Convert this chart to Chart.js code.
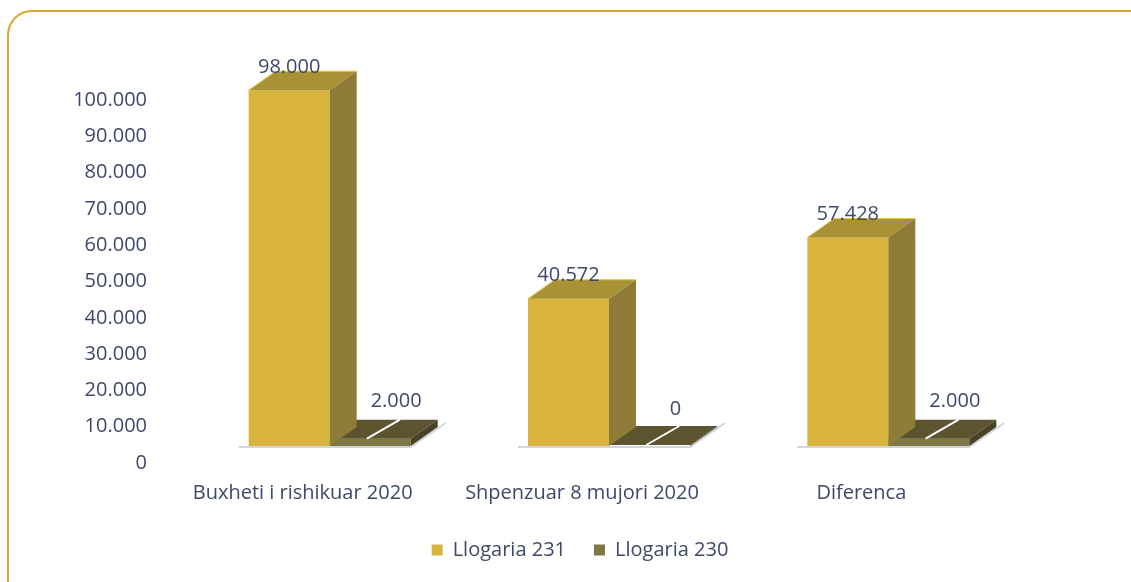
<!DOCTYPE html>
<html>
<head>
<meta charset="utf-8">
<script src="https://cdn.jsdelivr.net/npm/chart.js@4/dist/chart.umd.min.js"></script>
<style>
  html, body { margin: 0; padding: 0; background: #fff; overflow: hidden; }
  #wrap { position: relative; width: 1131px; height: 582px; }
</style>
</head>
<body>
<div id="wrap"><canvas id="graph"></canvas></div>
<script>
"use strict";

const categories = ["Buxheti i rishikuar 2020", "Shpenzuar 8 mujori 2020", "Diferenca"];
const seriesNames = ["Llogaria 231", "Llogaria 230"];
const llogaria231 = [98000, 40572, 57428];
const llogaria230 = [2000, 0, 2000];
const yTicks = [0, 10000, 20000, 30000, 40000, 50000, 60000, 70000, 80000, 90000, 100000];

const textColor = "#3e4869";
const fontFamily = "'Open Sans', Lato, sans-serif";
const fontSize = 20;

// front / top / side colours for each series
const faces = [
  { front: "#d9b43c", top: "#a99236", side: "#8e7c38" },
  { front: "#7f7645", top: "#5c532f", side: "#4a4226" },
];
const depthX = 27;
const depthY = -19;

function fmt(v) {
  return String(v).replace(/\B(?=(\d{3})+(?!\d))/g, ".");
}

const frame = {
  id: "frame",
  afterLayout(chart) {
    // legend sits a bit right of the plot centre in the original
    chart.legend.left += 66;
    chart.legend.right += 66;
  },
  beforeDraw(chart) {
    const ctx = chart.ctx;
    ctx.save();
    ctx.strokeStyle = "#d9a63a";
    ctx.lineWidth = 2;
    ctx.beginPath();
    ctx.roundRect(8, 11, 1150, 600, 24);
    ctx.stroke();
    ctx.restore();
  },
};

const bars3d = {
  id: "bars3d",
  afterDatasetsDraw(chart) {
    const ctx = chart.ctx;
    ctx.save();
    // floor shadow
    chart.getDatasetMeta(0).data.forEach((b0, i) => {
      const b1 = chart.getDatasetMeta(1).data[i];
      const left = b0.x - b0.width / 2;
      const right = b1.x + b1.width / 2;
      ctx.strokeStyle = "rgba(150,160,185,0.45)";
      ctx.lineWidth = 2;
      ctx.beginPath();
      ctx.moveTo(left - 10, b0.base + 1);
      ctx.lineTo(right, b0.base + 1);
      ctx.lineTo(right + depthX + 8, b0.base + depthY - 4);
      ctx.stroke();
    });
    // draw back series first, then front series
    [1, 0].forEach((di) => {
      const meta = chart.getDatasetMeta(di);
      const f = faces[di];
      meta.data.forEach((bar) => {
        const l = bar.x - bar.width / 2;
        const r = bar.x + bar.width / 2;
        const t = Math.min(bar.y, bar.base - 1);
        const b = bar.base;
        // top face
        ctx.fillStyle = f.top;
        ctx.beginPath();
        ctx.moveTo(l, t);
        ctx.lineTo(l + depthX, t + depthY);
        ctx.lineTo(r + depthX, t + depthY);
        ctx.lineTo(r, t);
        ctx.closePath();
        ctx.fill();
        // side face
        ctx.fillStyle = f.side;
        ctx.beginPath();
        ctx.moveTo(r, t);
        ctx.lineTo(r + depthX, t + depthY);
        ctx.lineTo(r + depthX, b + depthY);
        ctx.lineTo(r, b);
        ctx.closePath();
        ctx.fill();
        if (di === 0) {
          ctx.strokeStyle = "#e6c64a";
          ctx.lineWidth = 1;
          ctx.beginPath();
          ctx.moveTo(l, t);
          ctx.lineTo(l + depthX, t + depthY);
          ctx.lineTo(r + depthX, t + depthY);
          ctx.stroke();
        } else {
          ctx.strokeStyle = "#ffffff";
          ctx.lineWidth = 2;
          const sx = l + bar.width * 0.46;
          ctx.beginPath();
          ctx.moveTo(sx, t);
          ctx.lineTo(sx + depthX + 6, t + depthY);
          ctx.stroke();
        }
      });
    });
    // value labels
    ctx.fillStyle = textColor;
    ctx.font = fontSize + "px " + fontFamily;
    ctx.textAlign = "center";
    ctx.textBaseline = "middle";
    chart.data.datasets.forEach((ds, di) => {
      chart.getDatasetMeta(di).data.forEach((bar, i) => {
        const dx = di === 0 ? 0 : 26;
        const dy = di === 0 ? 23 : 37;
        ctx.fillText(fmt(ds.data[i]), bar.x + dx, bar.y - dy);
      });
    });
    ctx.restore();
  },
};

new Chart(document.getElementById("graph").getContext("2d"), {
  type: "bar",
  data: {
    labels: categories,
    datasets: [
      {
        label: seriesNames[0],
        data: llogaria231,
        backgroundColor: faces[0].front,
        borderWidth: 0,
      },
      {
        label: seriesNames[1],
        data: llogaria230,
        backgroundColor: faces[1].front,
        borderWidth: 0,
      },
    ],
  },
  options: {
    responsive: true,
    maintainAspectRatio: false,
    animation: false,
    events: [],
    categoryPercentage: 0.58,
    barPercentage: 1,
    layout: { padding: { left: 0, right: 103, top: 83, bottom: 12 } },
    scales: {
      x: {
        grid: { display: false, drawTicks: false },
        border: { display: false },
        ticks: {
          color: textColor,
          font: { family: fontFamily, size: fontSize },
          padding: 35,
          labelOffset: -27,
          maxRotation: 0,
        },
        afterFit: (s) => { s.height = 66; },
      },
      y: {
        min: 0,
        max: 100000,
        grid: { display: false, drawTicks: false },
        border: { display: false },
        afterBuildTicks: (s) => { s.ticks = yTicks.map((v) => ({ value: v })); },
        afterFit: (s) => { s.width = 190; },
        ticks: {
          color: textColor,
          font: { family: fontFamily, size: fontSize },
          padding: 43,
          labelOffset: 17,
          callback: (v) => fmt(v),
        },
      },
    },
    plugins: {
      legend: {
        position: "bottom",
        labels: {
          color: textColor,
          font: { family: fontFamily, size: fontSize },
          boxWidth: 11,
          boxHeight: 11,
          padding: 28,
        },
      },
      tooltip: { enabled: false },
    },
  },
  plugins: [frame, bars3d],
});
</script>
</body>
</html>
